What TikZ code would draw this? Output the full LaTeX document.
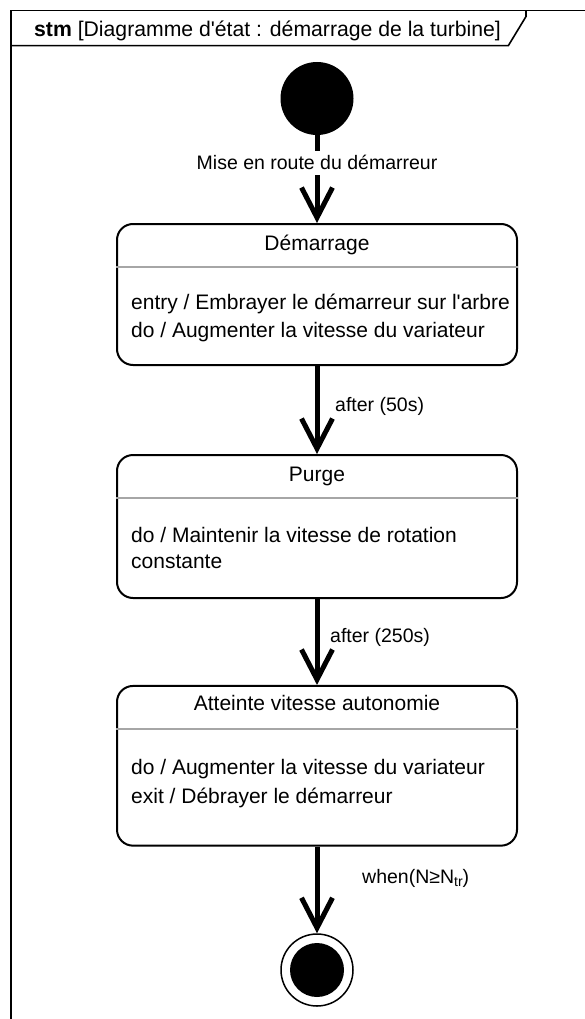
\documentclass[tikz,border=0pt]{standalone}
\usepackage{fontspec}
\setmainfont{Liberation Sans}
\usetikzlibrary{arrows.meta}
\begin{document}
\begin{tikzpicture}[x=1pt,y=-1pt,
  statebox/.style={draw,line width=2pt,rounded corners=16pt,minimum width=400pt,inner sep=0pt},
  sepline/.style={draw=black!35,line width=2pt},
  trans/.style={line width=5pt,-{Straight Barb[length=30pt,width=31pt]}},
  body/.style={anchor=base west,inner sep=0pt,font=\fontsize{21}{25}\selectfont},
  ttl/.style={anchor=base,inner sep=0pt,font=\fontsize{21}{25}\selectfont},
  lbl/.style={anchor=base west,inner sep=0pt,font=\fontsize{19.5}{23}\selectfont},
  framel/.style={line width=1.6pt},
]
\useasboundingbox (0,0) rectangle (585,1019);
% frame
\draw[framel] (585,10.7) -- (10.7,10.7) -- (10.7,1025);
\draw[framel] (10.7,45.7) -- (508.3,45.7) -- (526,16.5) -- (526,10.7);
\node[anchor=base west,inner sep=0pt,font=\fontsize{21.2}{25}\selectfont] (title) at (34,36.5) {\textbf{stm} [Diagramme d\textquotesingle état : démarrage de la turbine]};
% initial
\node[circle,fill=black,minimum size=73pt,inner sep=0pt] (init) at (317,98.5) {};
% states
\node[statebox,minimum height=141pt] (s1) at (317,294.5) {};
\draw[sepline] (s1.west |- 0,266.7) -- (s1.east |- 0,266.7);
\node[ttl] (s1t) at (317,250) {Démarrage};
\node[body] (s1a) at (131,309) {entry / Embrayer le démarreur sur l\textquotesingle arbre};
\node[body] (s1b) at (131,337) {do / Augmenter la vitesse du variateur};

\node[statebox,minimum height=143pt] (s2) at (317,526.5) {};
\draw[sepline] (s2.west |- 0,498) -- (s2.east |- 0,498);
\node[ttl] (s2t) at (317,481) {Purge};
\node[body] (s2a) at (131,542) {do / Maintenir la vitesse de rotation};
\node[body] (s2b) at (131,568) {constante};

\node[statebox,minimum height=159.7pt] (s3) at (317,765.8) {};
\draw[sepline] (s3.west |- 0,729) -- (s3.east |- 0,729);
\node[ttl] (s3t) at (317,710) {Atteinte vitesse autonomie};
\node[body] (s3a) at (131,774) {do / Augmenter la vitesse du variateur};
\node[body] (s3b) at (131,803) {exit / Débrayer le démarreur};
% final
\node[circle,draw,line width=1.5pt,minimum size=72pt,inner sep=0pt] (fin) at (317,970) {};
\node[circle,fill=black,minimum size=54pt,inner sep=0pt] (fincore) at (fin) {};
% transitions
\draw[trans] (init.south) -- (s1.north);
\node[anchor=base,inner sep=0pt,inner ysep=5pt,fill=white,font=\fontsize{19.5}{23}\selectfont] (l1) at (317,170) {Mise en route du démarreur};
\draw[trans] (s1.south) -- (s2.north);
\node[lbl] (l2) at (335,411.5) {after (50s)};
\draw[trans] (s2.south) -- (s3.north);
\node[lbl] (l3) at (330,642) {after (250s)};
\draw[trans] (s3.south) -- (fin.north);
\node[lbl] (l4) at (362,883) {when(N≥N\raisebox{-0.35ex}{\fontsize{14}{14}\selectfont tr})};
\end{tikzpicture}
\end{document}
